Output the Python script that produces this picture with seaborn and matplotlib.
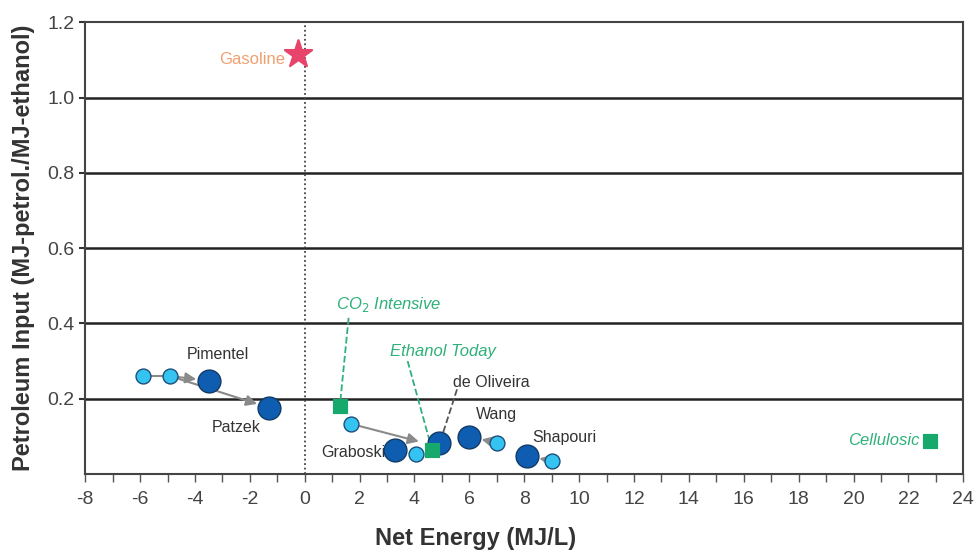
import matplotlib
matplotlib.use("Agg")
import matplotlib.pyplot as plt
import seaborn as sns
import pandas as pd

# adjusted studies (dark) and published values (light)
dark_names = ['Pimentel', 'Patzek', 'Graboski', 'de Oliveira', 'Wang', 'Shapouri']
dark_x = [-3.5, -1.3, 3.3, 4.9, 6.0, 8.1]
dark_y = [0.248, 0.176, 0.064, 0.083, 0.099, 0.048]

light_x = [-5.9, -4.9, 1.7, 4.05, 7.0, 9.0]
light_y = [0.26, 0.26, 0.133, 0.053, 0.083, 0.035]

# scenario points
case_names = ['CO$_2$ Intensive', 'Ethanol Today', 'Cellulosic']
case_x = [1.3, 4.65, 22.8]
case_y = [0.181, 0.065, 0.088]

gas_x = [-0.25]
gas_y = [1.117]

xtick_vals = list(range(-8, 25, 2))
ytick_vals = [0.2, 0.4, 0.6, 0.8, 1.0, 1.2]

# arrows light -> dark  (start x, start y, end x, end y)
arrows = [(-4.9, 0.26, -3.5, 0.248),
          (-4.9, 0.26, -1.3, 0.176),
          (1.7, 0.133, 4.6, 0.078),
          (7.0, 0.083, 6.0, 0.099),
          (9.0, 0.035, 8.1, 0.048)]

sns.set_style("white")
plt.rcParams['font.family'] = ['Liberation Sans', 'DejaVu Sans']

fig = plt.figure(figsize=(9.79, 5.57), dpi=100)
ax = fig.add_axes([0.087, 0.149, 0.897, 0.811])

dark_df = pd.DataFrame({'x': dark_x, 'y': dark_y, 'name': dark_names})
light_df = pd.DataFrame({'x': light_x, 'y': light_y})
case_df = pd.DataFrame({'x': case_x, 'y': case_y, 'name': case_names})

# grid lines
for yv in ytick_vals[:-1]:
    ax.axhline(yv, color='#222222', lw=1.8, zorder=1)
ax.axvline(0, color='#444444', lw=1.3, ls=(0, (1, 1.5)), zorder=1)

# connector between the two light pimentel/patzek points
ax.plot(light_x[:2], light_y[:2], color='#888888', lw=1.5, zorder=2)
for x0, y0, x1, y1 in arrows:
    ax.annotate('', xy=(x1, y1), xytext=(x0, y0),
                arrowprops=dict(arrowstyle='-|>', color='#8a8a8a', lw=1.5,
                                mutation_scale=16, shrinkA=6, shrinkB=9),
                zorder=2)

sns.scatterplot(data=light_df, x='x', y='y', ax=ax, s=115, color='#35c3f2',
                edgecolor='#1d4f7a', linewidth=1, zorder=4)
sns.scatterplot(data=dark_df, x='x', y='y', ax=ax, s=270, color='#0f5db0',
                edgecolor='#123a66', linewidth=1, zorder=5)
sns.scatterplot(data=case_df, x='x', y='y', ax=ax, s=110, marker='s',
                color='#17a86b', edgecolor='#17a86b', zorder=6)
sns.scatterplot(x=gas_x, y=gas_y, ax=ax, s=420, marker='*', color='#e8436a',
                edgecolor='#e8436a', zorder=6)

txt = dict(fontsize=11.5, color='#333333', va='center')
ax.text(-3.15, 0.317, 'Pimentel', ha='center', **txt)
ax.text(-2.5, 0.123, 'Patzek', ha='center', **txt)
ax.text(2.95, 0.056, 'Graboski', ha='right', **txt)
ax.text(5.4, 0.243, 'de Oliveira', ha='left', **txt)
ax.text(7.0, 0.158, 'Wang', ha='center', **txt)
ax.text(8.3, 0.097, 'Shapouri', ha='left', **txt)

green = '#2fb07a'
gtxt = dict(fontsize=12, color=green, style='italic', va='center')
ax.text(1.15, 0.45, 'CO$_2$ Intensive', ha='left', **gtxt)
ax.text(3.1, 0.325, 'Ethanol Today', ha='left', **gtxt)
ax.text(22.4, 0.088, 'Cellulosic', ha='right', **gtxt)
ax.text(-0.7, 1.1, 'Gasoline', ha='right', fontsize=12, color='#f0a070', va='center')

ax.plot([1.6, 1.3], [0.415, 0.195], color=green, lw=1.3, ls='--', zorder=3)
ax.plot([3.75, 4.6], [0.3, 0.075], color=green, lw=1.3, ls='--', zorder=3)
ax.plot([5.55, 5.0], [0.225, 0.1], color='#555555', lw=1.3, ls='--', zorder=3)

ax.set_xlim(-8, 24)
ax.set_ylim(0, 1.2)
ax.set_xticks(xtick_vals)
ax.set_xticklabels([str(v) for v in xtick_vals])
ax.set_xticks(range(-8, 25, 1), minor=True)
ax.set_yticks(ytick_vals)
ax.set_yticklabels(['%.1f' % v for v in ytick_vals])
ax.tick_params(axis='x', which='both', direction='out', length=6, width=1,
               color='#555555', bottom=True, labelsize=14, labelcolor='#444444', pad=6)
ax.tick_params(axis='y', direction='out', length=4, width=1.5, color='#333333',
               left=True, labelsize=14, labelcolor='#444444')
for sp in ax.spines.values():
    sp.set_color('#444444')
    sp.set_linewidth(1.5)

ax.set_xlabel('Net Energy (MJ/L)', fontsize=17, fontweight='bold', color='#333333')
ax.xaxis.set_label_coords(0.445, -0.118)
ax.set_ylabel('Petroleum Input (MJ-petrol./MJ-ethanol)', fontsize=17,
              fontweight='bold', color='#333333')
ax.yaxis.set_label_coords(-0.057, 0.5)

fig.savefig('out.png', dpi=100)
